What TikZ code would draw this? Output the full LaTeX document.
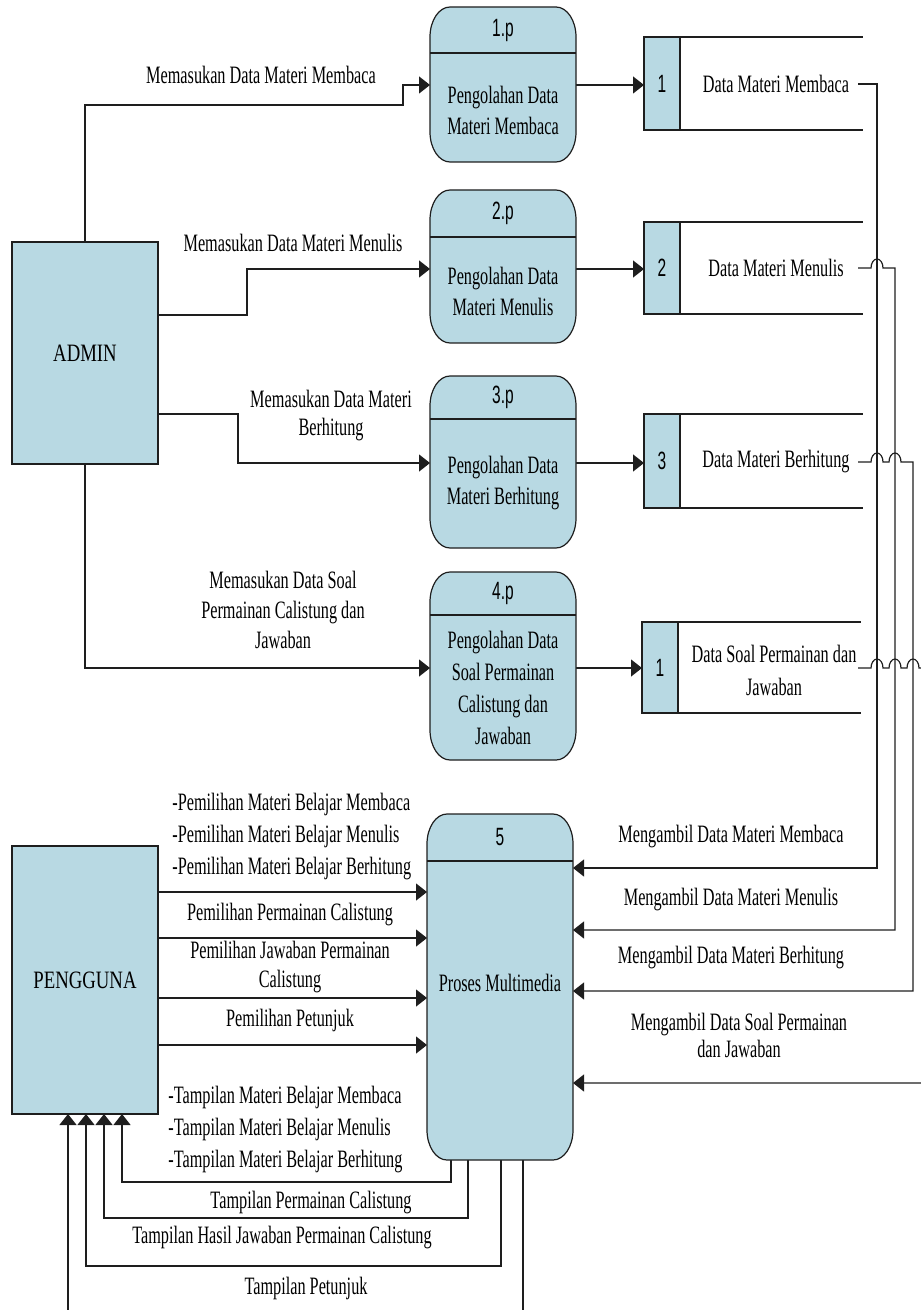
\documentclass[tikz,border=0pt]{standalone}
\usepackage{fontspec}
\setmainfont{Liberation Serif}[FakeStretch=0.65]
\newfontfamily\entfont{Liberation Serif}[FakeStretch=0.75]
\newfontfamily\numfont{Liberation Sans}[FakeStretch=0.62]
\usetikzlibrary{arrows.meta,calc,backgrounds}
\definecolor{boxfill}{RGB}{184,217,227}
\definecolor{edge}{RGB}{30,30,30}

% outline of a process box with elliptical corners, drawn round an empty node
\newcommand\procbox[1]{%
  \path[procshape] ($(#1.north west)+(0,-15pt)$)
    arc[start angle=180,end angle=90,x radius=10pt,y radius=15pt]
    -- ($(#1.north east)+(-10pt,0)$)
    arc[start angle=90,end angle=0,x radius=10pt,y radius=15pt]
    -- ($(#1.south east)+(0,15pt)$)
    arc[start angle=0,end angle=-90,x radius=10pt,y radius=15pt]
    -- ($(#1.south west)+(10pt,0)$)
    arc[start angle=270,end angle=180,x radius=10pt,y radius=15pt]
    -- cycle;}

\begin{document}
\begin{tikzpicture}[x=0.5pt,y=-0.5pt,
  txt/.style={font=\fontsize{12.5}{15.5}\selectfont, inner sep=0pt, align=center},
  ent/.style={draw=edge, fill=boxfill, line width=0.6pt, inner sep=0pt, outer sep=0pt,
    font=\entfont\fontsize{12.5}{15.5}\selectfont, minimum width=73pt},
  procnode/.style={draw=none, inner sep=0pt, outer sep=0pt, minimum width=73pt},
  procshape/.style={draw=edge, fill=boxfill, line width=0.6pt},
  storebox/.style={draw=edge, fill=boxfill, line width=0.6pt, inner sep=0pt, outer sep=0pt,
    minimum width=18pt, font=\numfont\fontsize{12.5}{15}\selectfont},
  ptitle/.style={font=\numfont\fontsize{12.5}{15}\selectfont, inner sep=0pt},
  wire/.style={draw=edge, line width=0.6pt},
  flow/.style={wire, -{Triangle[length=5.5pt,width=8.5pt]}},
]
\useasboundingbox (0,0) rectangle (920,1310);
\clip (0,0) rectangle (920,1310);

% external entities
\node[ent, minimum height=111pt] (admin) at (85,353) {ADMIN};
\node[ent, minimum height=134pt] (peng) at (85,980) {PENGGUNA};

% processes
\node[procnode, minimum height=77.5pt] (p1) at (503,84.5) {};
\procbox{p1}
\draw[wire] (p1.west |- 0,53) -- (p1.east |- 0,53);
\node[ptitle] (p1t) at (503,30) {1.p};
\node[txt] (p1b) at (503,110) {Pengolahan Data\\Materi Membaca};

\node[procnode, minimum height=76.5pt] (p2) at (503,266.5) {};
\procbox{p2}
\draw[wire] (p2.west |- 0,237) -- (p2.east |- 0,237);
\node[ptitle] (p2t) at (503,213) {2.p};
\node[txt] (p2b) at (503,291) {Pengolahan Data\\Materi Menulis};

\node[procnode, minimum height=86pt] (p3) at (503,462) {};
\procbox{p3}
\draw[wire] (p3.west |- 0,419) -- (p3.east |- 0,419);
\node[ptitle] (p3t) at (503,397) {3.p};
\node[txt] (p3b) at (503,483) {Pengolahan Data\\Materi Berhitung};

\node[procnode, minimum height=94pt] (p4) at (503,666) {};
\procbox{p4}
\draw[wire] (p4.west |- 0,615) -- (p4.east |- 0,615);
\node[ptitle] (p4t) at (503,593) {4.p};
\node[txt, font=\fontsize{12.5}{16}\selectfont] (p4b) at (503,688) {Pengolahan Data\\Soal Permainan\\Calistung dan\\Jawaban};

\node[procnode, minimum height=173pt] (p5) at (500,987) {};
\procbox{p5}
\draw[wire] (p5.west |- 0,861) -- (p5.east |- 0,861);
\node[ptitle] (p5t) at (500,837) {5};
\node[txt] (p5b) at (500,983) {Proses Multimedia};

% data stores
\node[storebox, minimum height=46.5pt] (s1n) at (662,83.5) {1};
\draw[wire] (s1n.north west) -- (s1n.north west -| 863,0);
\draw[wire] (s1n.south west) -- (s1n.south west -| 863,0);
\node[txt] (s1t) at (776,84) {Data Materi Membaca};

\node[storebox, minimum height=46pt] (s2n) at (662,268) {2};
\draw[wire] (s2n.north west) -- (s2n.north west -| 863,0);
\draw[wire] (s2n.south west) -- (s2n.south west -| 863,0);
\node[txt] (s2t) at (776,268) {Data Materi Menulis};

\node[storebox, minimum height=47pt] (s3n) at (662,461) {3};
\draw[wire] (s3n.north west) -- (s3n.north west -| 863,0);
\draw[wire] (s3n.south west) -- (s3n.south west -| 863,0);
\node[txt] (s3t) at (776,462) {Data Materi Berhitung};

\node[storebox, minimum height=45.5pt] (s4n) at (660,667.5) {1};
\draw[wire] (s4n.north west) -- (s4n.north west -| 861,0);
\draw[wire] (s4n.south west) -- (s4n.south west -| 861,0);
\node[txt, font=\fontsize{12.5}{16.5}\selectfont] (s4t) at (774,670) {Data Soal Permainan dan\\Jawaban};

% flow labels
\node[txt] (l1) at (261,75) {Memasukan Data Materi Membaca};
\node[txt] (l2) at (293,243) {Memasukan Data Materi Menulis};
\node[txt, font=\fontsize{12.5}{14}\selectfont] (l3) at (331,416) {Memasukan Data Materi\\Berhitung};
\node[txt, font=\fontsize{12.5}{15}\selectfont] (l4) at (283,610) {Memasukan Data Soal\\Permainan Calistung dan\\Jawaban};

\node[txt, align=left, anchor=west, font=\fontsize{12.5}{16}\selectfont] (u1) at (172,837)
  {-Pemilihan Materi Belajar Membaca\\-Pemilihan Materi Belajar Menulis\\-Pemilihan Materi Belajar Berhitung};
\node[txt] (u2) at (290,915) {Pemilihan Permainan Calistung};
\node[txt, font=\fontsize{12.5}{14.5}\selectfont] (u3) at (290,967) {Pemilihan Jawaban Permainan\\Calistung};
\node[txt] (u4) at (290,1020) {Pemilihan Petunjuk};

\node[txt] (m1) at (731,837) {Mengambil Data Materi Membaca};
\node[txt] (m2) at (731,900) {Mengambil Data Materi Menulis};
\node[txt] (m3) at (731,958) {Mengambil Data Materi Berhitung};
\node[txt, font=\fontsize{12.5}{13.5}\selectfont] (m4) at (739,1035) {Mengambil Data Soal Permainan\\dan Jawaban};

\node[txt, align=left, anchor=west, font=\fontsize{12.5}{16}\selectfont] (t1) at (168,1130)
  {-Tampilan Materi Belajar Membaca\\-Tampilan Materi Belajar Menulis\\-Tampilan Materi Belajar Berhitung};
\node[txt] (t2) at (311,1203) {Tampilan Permainan Calistung};
\node[txt] (t3) at (282,1238) {Tampilan Hasil Jawaban Permainan Calistung};
\node[txt] (t4) at (306,1288) {Tampilan Petunjuk};

% connector ends that leave the sheet
\coordinate (s1o) at (858,84);
\coordinate (s2o) at (858,268);
\coordinate (s3o) at (858,462);
\coordinate (s4o) at (858,668);
\coordinate (petout) at (523,1330);
\coordinate (petin) at (68,1330);

\begin{pgfonlayer}{background}
% ADMIN to processes 1-4
\draw[flow] (admin.north) -- (85,105) -- (403,105) -- (403,85) -- (p1.west |- 0,85);
\draw[flow] (admin.east |- 0,315) -- (247,315) -- (247,269) -- (p2.west |- 0,269);
\draw[flow] (admin.east |- 0,414) -- (238,414) -- (238,463) -- (p3.west |- 0,463);
\draw[flow] (admin.south) -- (85,668) -- (p4.west |- 0,668);

% processes 1-4 to their stores
\draw[flow] (p1.east |- 0,85) -- (s1n.west |- 0,85);
\draw[flow] (p2.east |- 0,269) -- (s2n.west |- 0,269);
\draw[flow] (p3.east |- 0,463) -- (s3n.west |- 0,463);
\draw[flow] (p4.east |- 0,668) -- (s4n.west |- 0,668);

% stores to process 5, hopping over the lines they cross
\draw[flow] (s1o) -- (877,84) -- (877,868) -- (p5.east |- 0,868);
\draw[flow] (s2o) -- (871,268)
  arc[start angle=180,end angle=0,x radius=3pt,y radius=4.5pt]
  -- (895,268) -- (895,930) -- (p5.east |- 0,930);
\draw[flow] (s3o) -- (871,462)
  arc[start angle=180,end angle=0,x radius=3pt,y radius=4.5pt] -- (889,462)
  arc[start angle=180,end angle=0,x radius=3pt,y radius=4.5pt]
  -- (913,462) -- (913,991) -- (p5.east |- 0,991);
\draw[flow] (s4o) -- (871,668)
  arc[start angle=180,end angle=0,x radius=3pt,y radius=4.5pt] -- (889,668)
  arc[start angle=180,end angle=0,x radius=3pt,y radius=4.5pt] -- (907,668)
  arc[start angle=180,end angle=0,x radius=3pt,y radius=4.5pt]
  -- (932,668) -- (932,1083) -- (p5.east |- 0,1083);

% PENGGUNA to process 5
\draw[flow] (peng.east |- 0,892) -- (p5.west |- 0,892);
\draw[flow] (peng.east |- 0,938) -- (p5.west |- 0,938);
\draw[flow] (peng.east |- 0,998) -- (p5.west |- 0,998);
\draw[flow] (peng.east |- 0,1045) -- (p5.west |- 0,1045);

% process 5 back to PENGGUNA
\draw[flow] (451,1150) -- (451,1182) -- (122,1182) -- (peng.south -| 122,0);
\draw[flow] (468,1150) -- (468,1218) -- (104,1218) -- (peng.south -| 104,0);
\draw[flow] (501,1150) -- (501,1266) -- (86,1266) -- (peng.south -| 86,0);
\draw[wire] (523,1150) -- (petout);
\draw[flow] (petin) -- (peng.south -| 68,0);
\end{pgfonlayer}
\end{tikzpicture}
\end{document}
